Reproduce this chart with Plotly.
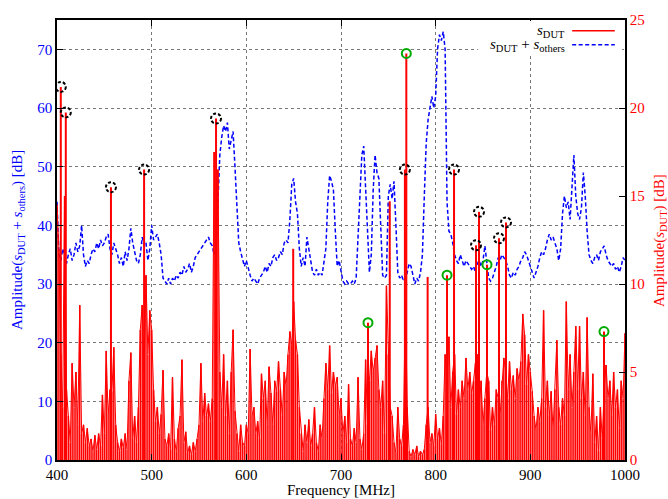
import plotly.graph_objects as go

# ---------------- data ----------------
# s_DUT noise floor, right axis [dB], sampled every 2 MHz from 400 to 1000
noise_start = 400
noise_step = 2
noise_db = [
    14.5, 12, 6, 3, 15, 4, 2.5, 1, 5.5, 3,
    5, 2, 8.8, 1.5, 2, 1, 1.8, 0.8, 1.2, 0.5,
    1.4, 0.6, 1.5, 0.8, 3.7, 1.5, 6.2, 2.5, 4, 3.9,
    6.4, 2, 1, 0.5, 1.2, 0.7, 1.5, 0.6, 4.5, 6.1,
    1.2, 2.5, 1, 3, 7.4, 8.8, 5, 10.5, 6, 8.5,
    7.4, 4, 2.2, 3, 1.5, 2.6, 5.1, 1.2, 0.8, 1.5,
    0.6, 4.7, 1.2, 0.5, 1.8, 2.5, 5.7, 1, 1.6, 0.4,
    0.8, 0.3, 1, 0.5, 1.2, 2, 5.5, 2.2, 3.8, 2.5,
    3.2, 2.2, 3.5, 17.5, 8, 16.5, 5, 3, 6, 2.5,
    4.5, 1.5, 5, 7.4, 2.8, 1.5, 0.5, 2, 1, 0.8,
    2, 1.5, 6.3, 2.5, 3, 1.5, 2.2, 1.2, 4.9, 3.5,
    4.5, 2, 5.3, 3.8, 2, 4.5, 3.9, 5.6, 4, 2.5,
    5, 4.2, 6, 7.3, 6.5, 9, 6.8, 6, 3, 1.5,
    0.5, 2, 1, 2.3, 0.8, 1.5, 3, 1, 0.5, 2,
    1.2, 3.5, 5.5, 4, 6.5, 3.8, 5, 4.2, 4.7, 2.5,
    3.5, 1.5, 2.5, 1, 4.3, 1.2, 0.8, 1.8, 1, 4.7,
    1.2, 0.6, 1.5, 5.7, 2, 4.5, 6.2, 5, 5.8, 6.5,
    4, 3, 4.5, 1.5, 9.9, 6, 3, 2.5, 1, 0.4,
    3, 1.2, 0.8, 2, 9, 3, 0.5, 0.2, 0.6, 0.3,
    0.8, 0.2, 0.5, 0.3, 0.6, 2, 3, 1, 1.5, 0.8,
    2.6, 1.2, 1.8, 0.9, 2.5, 6, 4.6, 7, 3, 5,
    6, 2.6, 4, 3, 4.5, 3.5, 5.8, 4, 5, 3.8,
    4.5, 5.5, 6, 3, 4.5, 2, 3.5, 5, 4.5, 1.7,
    3, 2, 4, 3.5, 2.5, 4.5, 5.8, 5, 3.5, 5.6,
    4, 4.8, 3.5, 5.2, 4.5, 5.6, 8.3, 7.1, 4.3, 6,
    5, 3.9, 2.5, 1.7, 3, 2.2, 3.5, 8.5, 3, 4.5,
    2.5, 3.9, 1.7, 4, 6.8, 3, 2, 3.5, 2.5, 9,
    4, 6, 3, 5, 7.6, 4, 7.6, 3.5, 5, 2.5,
    8.1, 3, 1.5, 4.9, 1, 2.5, 0.5, 3, 1.2, 4,
    5.4, 3.5, 4.5, 2.5, 5, 3, 4, 1.8, 4.5, 3.5,
    7.2,
]

# s_DUT strong spectral lines [MHz] and heights [dB, right axis]
peak_freq = [404, 409.3, 457, 492, 568, 649.5, 728.5, 751.5, 767.5, 769,
             791.5, 812, 819.4, 842.6, 845.8, 854.2, 866.9, 874.3, 977.8]
peak_db = [21.2, 19.75, 15.5, 16.5, 19.4, 12.0, 7.8, 14.7, 16.5, 23.1,
           10.4, 10.5, 16.5, 12.2, 14.1, 11.1, 12.6, 13.5, 7.3]

# dashed black circles (detected lines) and green circles
black_freq = [404, 409.3, 457, 492, 568, 767.5, 819.4, 842.6, 845.8, 866.9, 874.3]
black_db = [21.2, 19.75, 15.5, 16.5, 19.4, 16.5, 16.5, 12.2, 14.1, 12.6, 13.5]
green_freq = [728.5, 769, 812, 854.2, 977.8]
green_db = [7.8, 23.1, 10.5, 11.1, 7.3]

# s_DUT + s_others, left axis [dB]
blue_freq = [
    400, 401, 402, 404, 406, 408, 410, 412, 414, 416, 418, 420, 422, 424, 426, 428,
    430, 432, 434, 436, 438, 440, 442, 444, 446, 448, 450, 452, 454, 456, 458, 460,
    462, 464, 466, 468, 470, 472, 474, 476, 478, 480, 482, 484, 486, 488, 490, 492,
    494, 496, 498, 500, 502, 504, 506, 508, 510, 512, 514, 516, 518, 520, 522, 524,
    526, 528, 530, 532, 534, 536, 538, 540, 542, 544, 546, 548, 550, 552, 554, 556,
    558, 560, 562, 564, 566, 568, 570, 572, 574, 576, 578, 580, 582, 584, 586, 588,
    590, 592, 594, 596, 598, 600, 602, 604, 606, 608, 610, 612, 614, 616, 618, 620,
    622, 624, 626, 628, 630, 632, 634, 636, 638, 640, 642, 644, 646, 648, 650, 652,
    654, 656, 658, 660, 662, 664, 666, 668, 670, 672, 674, 676, 678, 680, 682, 684,
    686, 688, 690, 692, 694, 696, 698, 700, 702, 704, 706, 708, 710, 712, 714, 716,
    718, 720, 722, 724, 726, 728, 730, 732, 734, 736, 738, 740, 742, 744, 746, 748,
    750, 752, 754, 756, 758, 760, 762, 764, 766, 768, 770, 772, 774, 776, 778, 780,
    782, 784, 786, 788, 790, 792, 794, 796, 798, 800, 802, 804, 806, 808, 810, 812,
    814, 816, 818, 820, 822, 824, 826, 828, 830, 832, 834, 836, 838, 840, 842, 844,
    846, 848, 850, 852, 854, 856, 858, 860, 862, 864, 866, 868, 870, 872, 874, 876,
    878, 880, 882, 884, 886, 888, 890, 892, 894, 896, 898, 900, 902, 904, 906, 908,
    910, 912, 914, 916, 918, 920, 922, 924, 926, 928, 930, 932, 934, 936, 938, 940,
    942, 944, 946, 948, 950, 952, 954, 956, 958, 960, 962, 964, 966, 968, 970, 972,
    974, 976, 978, 980, 982, 984, 986, 988, 990, 992, 994, 996, 998, 1000,
]
blue_db = [
    44, 40, 35, 34, 36, 35, 33.5, 35, 36, 34, 35, 37, 35.5, 36.5, 40, 35,
    33, 34, 33.5, 35, 36, 35.5, 37, 36, 37.5, 36.5, 37, 38, 38.5, 36, 35, 37,
    36, 35, 33.5, 34.5, 33, 35.5, 34, 36, 39.5, 37, 35.5, 34, 33.5, 35, 38, 36.5,
    37, 34, 36, 40, 37.5, 38, 38.5, 37, 35, 31, 30.5, 30, 31, 30, 31, 30.5,
    31.5, 31, 32, 31.5, 33, 32, 32.5, 33.5, 32, 33, 34.5, 35, 35.5, 36, 36.5, 37,
    37.5, 38, 37, 36.5, 35, 36, 44, 52, 55, 57, 56, 57.5, 53, 54.5, 56, 50,
    42, 37, 35.5, 34, 33, 34, 32.5, 31.5, 30.5, 31, 30.5, 30, 31, 31.5, 32, 33,
    32, 33.5, 33, 34.5, 35, 34, 34.5, 35.5, 35, 37, 37.5, 37, 41, 47, 48, 44,
    42, 36, 33, 34.5, 33, 38, 36, 33.5, 32, 31.5, 32.5, 31.5, 32, 31.5, 34, 36,
    44, 48.5, 47.5, 46, 39, 33, 34, 32, 30.5, 30, 30.5, 30, 30, 30.5, 30, 31,
    38, 46, 52, 53.5, 47, 40, 32, 35, 46, 52, 49, 48, 41, 31.5, 31, 31.5,
    45, 47, 44.5, 47.5, 40, 32, 31, 31.5, 30.5, 31, 32, 33.5, 33, 31.5, 30, 31,
    30.5, 32, 35, 45, 54, 58, 60.5, 62, 60, 62, 70, 72.5, 71.5, 73, 70, 44,
    39, 38.5, 37, 35, 34, 33.5, 35, 34, 33, 34, 33.5, 33, 32.5, 33, 32, 33.5,
    34, 33, 34, 36.5, 34, 31, 30.5, 31, 32, 33, 34.5, 34, 35, 34.5, 34, 33,
    31.5, 31, 32, 31.5, 32.5, 33, 34, 34.5, 35.5, 35, 34, 33, 32, 31, 32, 33,
    34.5, 35.5, 35, 36, 37.5, 38.5, 37.5, 38, 37, 36, 34, 36, 42, 45, 43, 44,
    41, 47, 52, 45, 42, 41, 43, 49, 45, 39, 35, 34, 33.5, 34.5, 35, 34,
    35.5, 36, 36.5, 35, 34, 33.5, 33, 33.5, 32.5, 33, 32, 33, 34.5, 34,
]

y_left_ticks = [0, 10, 20, 30, 40, 50, 60, 70]
y_right_ticks = [0, 5, 10, 15, 20, 25]
x_ticks = [400, 500, 600, 700, 800, 900, 1000]

# ---------------- figure ----------------
FONT = "Liberation Serif"
noise_freq = [noise_start + noise_step * i for i in range(len(noise_db))]

# noise drawn as dense vertical strokes from 0 (very dense spectrum)
nz_x, nz_y = [], []
for f, v in zip(noise_freq, noise_db):
    nz_x += [f, f, None]
    nz_y += [0, v, None]

imp_x, imp_y = [], []
for f, v in zip(peak_freq, peak_db):
    imp_x += [f, f, None]
    imp_y += [0, v, None]

fig = go.Figure()
fig.add_trace(go.Scatter(x=nz_x, y=nz_y, mode="lines", yaxis="y2",
                         line=dict(color="#ff0000", width=1.5), showlegend=False))
fig.add_trace(go.Scatter(x=noise_freq, y=noise_db, mode="lines", yaxis="y2",
                         line=dict(color="#ff0000", width=1), showlegend=False))
fig.add_trace(go.Scatter(x=imp_x, y=imp_y, mode="lines", yaxis="y2",
                         line=dict(color="#ff0000", width=2), showlegend=False))
fig.add_trace(go.Scatter(x=blue_freq, y=blue_db, mode="lines", yaxis="y",
                         line=dict(color="#0000ff", width=1.5, dash="4px,2.5px"),
                         showlegend=False))
fig.add_trace(go.Scatter(x=green_freq, y=green_db, mode="markers", yaxis="y2",
                         marker=dict(symbol="circle-open", size=9, color="#00aa00",
                                     line=dict(width=2, color="#00aa00")),
                         showlegend=False))

shapes = []
for f, v in zip(black_freq, black_db):
    shapes.append(dict(type="circle", xref="x", yref="y2",
                       xsizemode="pixel", ysizemode="pixel",
                       xanchor=f, yanchor=v, x0=-5, x1=5, y0=-5, y1=5,
                       line=dict(color="black", width=2, dash="3px,2px"),
                       layer="above"))

# legend box (gnuplot style, key text left of samples)
shapes.append(dict(type="rect", xref="paper", yref="paper", x0=0.741, x1=0.995,
                   y0=0.924, y1=0.998, fillcolor="white", line=dict(width=0),
                   layer="above"))
shapes.append(dict(type="line", xref="paper", yref="paper", x0=0.907, x1=0.982,
                   y0=0.9755, y1=0.9755, line=dict(color="#ff0000", width=1.6),
                   layer="above"))
shapes.append(dict(type="line", xref="paper", yref="paper", x0=0.907, x1=0.982,
                   y0=0.944, y1=0.944,
                   line=dict(color="#0000ff", width=1.5, dash="4px,2.5px"),
                   layer="above"))

annotations = [
    dict(text="<i>s</i><sub>DUT</sub>", xref="paper", yref="paper", x=0.898,
         y=0.9755, xanchor="right", yanchor="middle", showarrow=False,
         font=dict(family=FONT, size=15, color="black")),
    dict(text="<i>s</i><sub>DUT</sub> + <i>s</i><sub>others</sub>", xref="paper",
         yref="paper", x=0.898, y=0.944, xanchor="right", yanchor="middle",
         showarrow=False, font=dict(family=FONT, size=15, color="black")),
    dict(text="Frequency [MHz]", xref="paper", yref="paper", x=0.5, y=-0.069,
         xanchor="center", yanchor="middle", showarrow=False,
         font=dict(family=FONT, size=15, color="black")),
    dict(text="Amplitude(<i>s</i><sub>DUT</sub> + <i>s</i><sub>others</sub>) [dB]",
         xref="paper", yref="paper", x=-0.0687, y=0.5, textangle=-90,
         xanchor="center", yanchor="middle", showarrow=False,
         font=dict(family=FONT, size=15, color="#0000ff")),
    dict(text="Amplitude(<i>s</i><sub>DUT</sub>) [dB]",
         xref="paper", yref="paper", x=1.0616, y=0.5, textangle=-90,
         xanchor="center", yanchor="middle", showarrow=False,
         font=dict(family=FONT, size=15, color="#ff0000")),
]

fig.update_layout(
    width=668, height=499,
    margin=dict(l=57, r=43, t=12, b=39),
    paper_bgcolor="white", plot_bgcolor="white",
    showlegend=False,
    shapes=shapes, annotations=annotations,
    xaxis=dict(range=[400, 1000], tickvals=x_ticks, ticks="inside", ticklen=6,
               tickcolor="black", showline=True, linecolor="black", linewidth=1.5,
               mirror="ticks", showgrid=True, gridcolor="#777777", griddash="dot",
               gridwidth=1, zeroline=False,
               tickfont=dict(family=FONT, size=15, color="black")),
    yaxis=dict(range=[0, 75], tickvals=y_left_ticks, ticks="inside", ticklen=6,
               tickcolor="black", showline=True, linecolor="black", linewidth=1.5,
               showgrid=True, gridcolor="#777777", griddash="dot", gridwidth=1,
               zeroline=False,
               tickfont=dict(family=FONT, size=15, color="#0000ff")),
    yaxis2=dict(range=[0, 25], tickvals=y_right_ticks, overlaying="y", side="right",
                ticks="inside", ticklen=6, tickcolor="black", showline=True,
                linecolor="black", linewidth=1.5, showgrid=False, zeroline=False,
                tickfont=dict(family=FONT, size=15, color="#ff0000")),
)

fig.write_html("out.html")
